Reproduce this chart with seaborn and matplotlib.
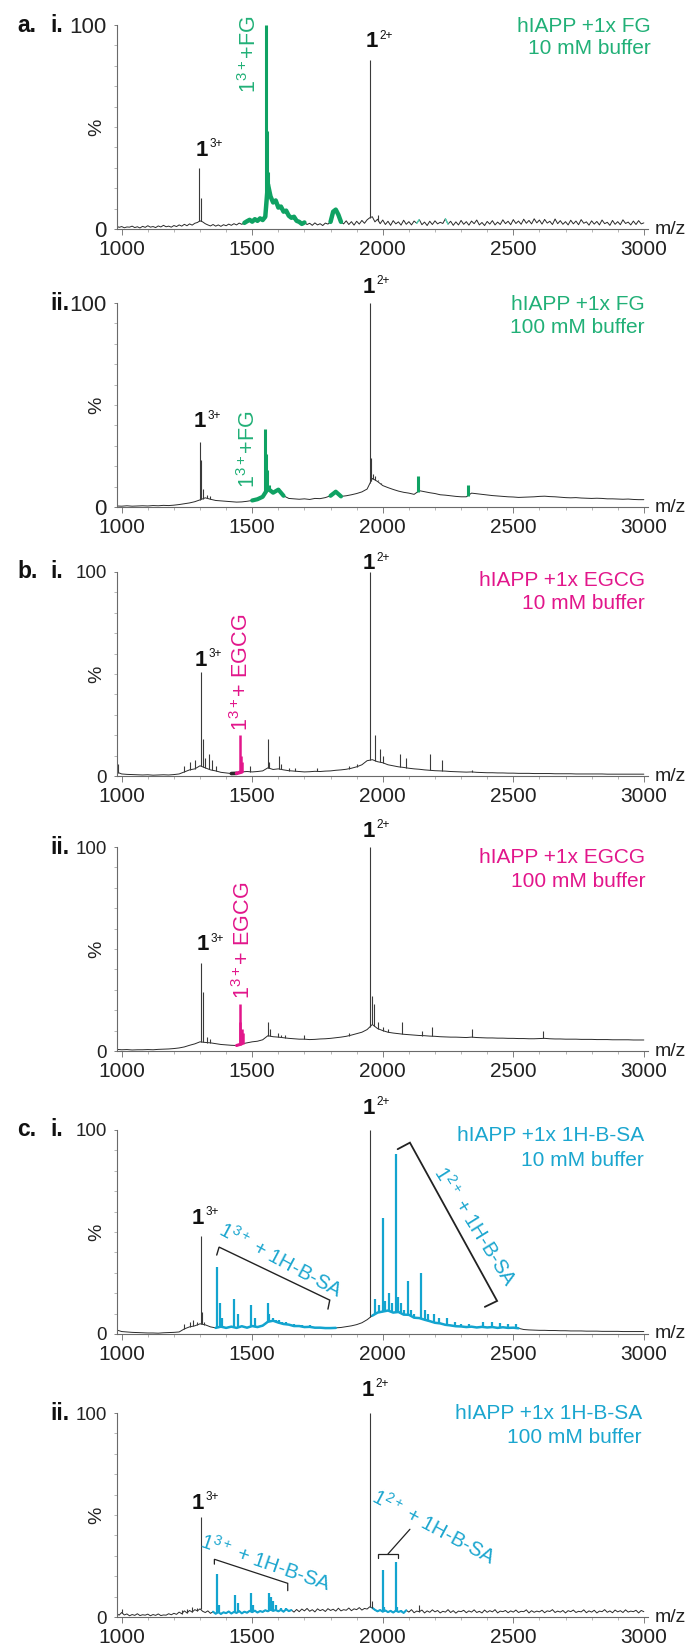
import numpy as np
import matplotlib
matplotlib.use("Agg")
import matplotlib.pyplot as plt
from matplotlib.ticker import MultipleLocator, FixedLocator
import seaborn as sns

sns.set_theme(style="ticks")
plt.rcParams["font.family"] = ["Liberation Sans", "DejaVu Sans"]
plt.rcParams["mathtext.fontset"] = "custom"
plt.rcParams["mathtext.rm"] = "Liberation Sans"
plt.rcParams["mathtext.it"] = "Liberation Sans:italic"
plt.rcParams["mathtext.bf"] = "Liberation Sans:bold"
plt.rcParams["mathtext.default"] = "regular"

# ---------------------------------------------------------------- data
# Each trace: baseline intensity (%) sampled from START with STEP (m/z),
# plus stick peaks for the free protein ions and for ligand-bound ions.

# a.i  hIAPP + 1x FG, 10 mM buffer
ai_start, ai_step = 980, 10
ai_base = [1.5, 0.8,
           1.2, 0.6, 1.0, 0.9, 1.4, 0.7, 1.1, 0.5, 1.3, 0.8,
           1.6, 0.9, 1.2, 0.7, 1.5, 1.0, 1.8, 1.1, 1.4, 0.9,
           1.7, 1.2, 2.0, 1.4, 2.3, 1.6, 2.5, 1.9, 2.8, 3.2,
           4.0, 3.5, 2.6, 2.0, 1.5, 2.2, 1.4, 2.0, 1.3, 2.1,
           1.6, 2.4, 1.8, 2.6, 2.0, 2.9, 2.3, 3.0, 3.8, 4.5,
           3.6, 4.8, 4.0, 5.2, 4.4, 6.0, 22.0, 16.0, 13.0, 14.0,
           10.5, 11.0, 8.5, 9.0, 6.5, 5.5, 6.0, 4.0, 3.5, 2.5,
           3.2, 2.2, 2.8, 1.8, 3.0, 2.0, 2.6, 1.7, 2.9, 2.4,
           3.5, 8.5, 9.5, 7.0, 3.5, 2.5, 4.0, 2.2, 3.6, 1.9,
           3.8, 2.4, 4.2, 2.8, 4.5, 5.5, 6.0, 3.5, 4.8, 2.6,
           4.4, 2.2, 3.8, 1.8, 4.1, 2.5, 3.5, 1.9, 4.3, 2.3,
           3.6, 2.0, 3.9, 2.8, 4.6, 2.1, 3.4, 1.7, 3.8, 2.2,
           4.0, 2.5, 3.3, 2.7, 5.0, 2.4, 3.8, 1.8, 3.5, 2.0,
           4.2, 2.3, 3.6, 1.9, 3.9, 2.6, 4.4, 2.0, 3.2, 1.7,
           3.7, 2.4, 4.1, 2.0, 3.4, 2.2, 4.5, 2.6, 3.8, 2.1,
           4.6, 2.7, 3.9, 2.3, 4.8, 2.8, 4.2, 2.5, 5.0, 3.0,
           4.4, 2.4, 4.7, 2.9, 3.8, 2.2, 4.9, 2.6, 4.1, 2.3,
           3.6, 2.0, 4.3, 2.5, 3.9, 2.1, 4.6, 2.8, 3.5, 1.9,
           4.0, 2.4, 3.7, 2.0, 4.4, 2.6, 3.3, 1.8, 4.2, 2.3,
           3.6, 2.1, 4.5, 2.7, 3.4, 2.0, 3.9, 2.2, 4.1, 2.5,
           3.0]
ai_ion_mz = [1297, 1304, 1952, 1983]
ai_ion_pct = [30, 15, 83, 7]
ai_bound_mz = [1553, 1557, 1562]
ai_bound_pct = [100, 48, 28]
ai_ranges = [(1470, 1700, "main"), (1800, 1845, "main"),
             (2125, 2145, "light"), (2235, 2255, "light")]

# a.ii  hIAPP + 1x FG, 100 mM buffer
aii_start, aii_step = 980, 20
aii_base = [0.5,
            0.4, 0.6, 0.4, 0.5, 0.6,
            0.5, 0.7, 0.6, 0.8, 0.7,
            0.9, 1.2, 1.6, 2.0, 2.6,
            3.5, 4.5, 3.8, 3.2, 3.0,
            2.8, 2.6, 2.4, 2.5, 2.8,
            3.2, 3.8, 5.0, 9.0, 7.0,
            8.5, 5.5, 4.2, 4.0, 3.8,
            4.0, 3.7, 4.2, 4.1, 4.6,
            5.5, 7.5, 5.2, 5.5, 6.0,
            6.6, 7.4, 8.8, 14.0, 12.5,
            10.5, 9.5, 8.6, 7.8, 7.2,
            6.8, 6.2, 8.0, 7.5, 7.0,
            6.6, 6.0, 5.8, 5.5, 5.2,
            5.0, 5.0, 6.8, 6.5, 6.2,
            5.9, 5.6, 5.4, 5.2, 5.0,
            4.9, 4.7, 4.8, 4.9, 5.0,
            5.2, 5.3, 5.1, 5.0, 4.8,
            4.6, 4.5, 4.6, 4.4, 4.3,
            4.2, 4.3, 4.2, 4.0, 4.0,
            3.9, 3.8, 3.9, 3.7, 3.6,
            3.6]
aii_ion_mz = [1300, 1304, 1312, 1328, 1340, 1952, 1956, 1962, 1970, 1980, 1992]
aii_ion_pct = [32, 23, 9, 6, 5.5, 100, 24, 16, 15, 13, 12]
aii_bound_mz = [1549, 1553, 1558, 1566, 1597, 1605, 1818, 2134, 2326]
aii_bound_pct = [38, 26, 18, 11, 9.5, 8, 8, 15, 11]
aii_ranges = [(1490, 1630, "main"), (1800, 1840, "main"), (2130, 2150, "light")]

# b.i  hIAPP + 1x EGCG, 10 mM buffer
bi_start, bi_step = 980, 20
bi_base = [2.0,
           1.0, 0.8, 0.7, 0.6, 0.5,
           0.6, 0.4, 0.5, 0.6, 0.5,
           0.7, 1.0, 2.0, 3.0, 3.5,
           5.0, 4.0, 3.0, 2.5, 1.8,
           1.5, 1.2, 1.3, 2.0, 2.2,
           2.0, 2.2, 2.5, 4.0, 3.2,
           3.5, 3.0, 2.6, 2.4, 2.2,
           2.0, 2.1, 2.3, 2.2, 2.4,
           2.5, 2.8, 3.0, 3.3, 3.8,
           4.5, 5.5, 7.5, 8.0, 7.0,
           6.5, 5.5, 5.0, 4.5, 4.2,
           3.8, 3.5, 3.3, 3.0, 2.8,
           2.6, 2.5, 2.4, 2.2, 2.1,
           2.0, 1.9, 2.0, 1.8, 1.7,
           1.6, 1.6, 1.5, 1.5, 1.4,
           1.4, 1.3, 1.3, 1.3, 1.2,
           1.2, 1.2, 1.2, 1.1, 1.1,
           1.1, 1.1, 1.0, 1.0, 1.0,
           1.0, 1.0, 1.0, 0.9, 0.9,
           0.9, 0.9, 0.9, 0.9, 0.9,
           0.9]
bi_ion_mz = [986, 1240, 1262, 1280, 1302, 1310, 1318, 1335, 1345, 1360, 1490,
             1560, 1566, 1602, 1610, 1640, 1662, 1750, 1870, 1900, 1952, 1970,
             1990, 2000, 2065, 2090, 2180, 2225, 2340]
bi_ion_pct = [6, 5, 7, 8, 51, 18, 9, 11, 8, 5, 5, 18, 7, 10, 6, 4, 4, 4, 5, 6,
              100, 20, 13, 10, 11, 9, 11, 8, 3]
bi_bound_mz = [1452, 1456, 1462]
bi_bound_pct = [20, 10, 7]
bi_ranges = [(1420, 1440, "dark"), (1440, 1470, "main")]

# b.ii  hIAPP + 1x EGCG, 100 mM buffer
bii_start, bii_step = 980, 20
bii_base = [0.8,
            0.6, 0.7, 0.5, 0.6, 0.6,
            0.7, 0.6, 0.8, 0.9, 1.0,
            1.2, 1.5, 2.0, 2.8, 3.5,
            4.5, 4.2, 4.0, 3.6, 3.2,
            3.0, 2.8, 2.7, 3.5, 4.0,
            4.5, 4.8, 5.5, 7.5, 7.0,
            6.8, 6.5, 6.2, 6.0, 5.8,
            5.8, 5.6, 5.7, 5.9, 6.0,
            6.2, 6.5, 6.8, 7.2, 7.8,
            8.5, 9.2, 10.5, 13.0, 11.0,
            10.0, 9.2, 8.8, 8.5, 8.2,
            8.0, 7.8, 7.6, 7.5, 7.3,
            7.2, 7.0, 6.9, 6.8, 6.8,
            6.7, 6.6, 6.8, 6.6, 6.5,
            6.4, 6.4, 6.3, 6.3, 6.2,
            6.2, 6.1, 6.1, 6.0, 6.0,
            6.1, 6.2, 6.0, 5.9, 5.9,
            5.8, 5.8, 5.8, 5.7, 5.7,
            5.7, 5.6, 5.6, 5.6, 5.5,
            5.5, 5.5, 5.5, 5.4, 5.4,
            5.4]
bii_ion_mz = [1302, 1312, 1325, 1340, 1562, 1568, 1600, 1612, 1625, 1700, 1870,
              1952, 1960, 1968, 1980, 2000, 2020, 2073, 2150, 2189, 2343, 2614]
bii_ion_pct = [43, 29, 7, 6, 14, 11, 9, 8, 8, 8, 9,
               100, 27, 23, 14, 12, 11, 14, 10, 12, 11, 10]
bii_bound_mz = [1452, 1455, 1460, 1465]
bii_bound_pct = [23, 14, 11, 9]
bii_ranges = [(1440, 1470, "main")]

# c.i  hIAPP + 1x 1H-B-SA, 10 mM buffer
ci_start, ci_step = 980, 20
ci_base = [2.0,
           1.2, 1.0, 0.8, 0.7, 0.6,
           0.5, 0.5, 0.4, 0.6, 0.7,
           0.8, 1.0, 2.5, 3.5, 4.0,
           5.0, 4.5, 3.5, 3.0, 3.6,
           3.0, 3.6, 3.0, 3.8, 3.1,
           3.9, 3.4, 4.1, 6.0, 6.5,
           5.6, 4.9, 4.6, 3.9, 3.9,
           3.4, 3.5, 3.1, 3.1, 2.9,
           2.9, 3.0, 3.2, 3.6, 4.0,
           4.6, 5.5, 7.0, 9.0, 10.5,
           11.0, 11.5, 10.5, 10.8, 9.5,
           9.4, 8.0, 7.8, 7.0, 6.3,
           5.5, 5.2, 4.5, 4.2, 3.8,
           3.7, 3.4, 3.6, 3.2, 3.5,
           3.2, 3.4, 3.0, 3.3, 3.0,
           3.1, 2.8, 2.2, 2.0, 1.9,
           1.8, 1.8, 1.7, 1.7, 1.6,
           1.6, 1.5, 1.5, 1.5, 1.4,
           1.4, 1.4, 1.3, 1.3, 1.3,
           1.3, 1.2, 1.2, 1.2, 1.2,
           1.2]
ci_ion_mz = [1240, 1260, 1275, 1290, 1302, 1308, 1315, 1952]
ci_ion_pct = [5, 6, 7, 6, 48, 11, 6, 100]
ci_bound_mz = [1366, 1377, 1383, 1431, 1444, 1496, 1511, 1560, 1566, 1578, 1590,
               1603, 1615, 1629, 1660, 1690, 1720, 1972, 1985, 1999, 2010, 2022,
               2035, 2049, 2060, 2069, 2080, 2096, 2108, 2120, 2148, 2160, 2175,
               2198, 2215, 2247, 2275, 2300, 2330, 2384, 2420, 2450, 2480, 2510]
ci_bound_pct = [33, 15, 8, 17, 10, 14, 8, 15, 10, 8, 7,
                7, 6, 6, 5, 4.5, 4.2, 17, 14, 57, 16, 20,
                15, 88, 18, 15, 12, 26, 12, 10, 30, 12, 10,
                10, 8, 8, 6, 5, 5, 6, 6, 5.5, 5, 5]
ci_ranges = [(1345, 1830, "main"), (1960, 2530, "main")]

# c.ii  hIAPP + 1x 1H-B-SA, 100 mM buffer
cii_start, cii_step = 980, 10
cii_base = [1.8, 0.9,
            2.2, 1.0, 1.5, 0.6, 1.2, 0.8, 1.6, 0.7, 1.1, 0.9,
            1.4, 0.6, 1.2, 0.8, 1.5, 0.7, 1.0, 0.9, 1.6, 1.1,
            1.8, 1.3, 2.4, 1.6, 3.0, 2.0, 3.2, 2.4, 3.6, 3.0,
            4.0, 2.8, 2.2, 3.0, 1.8, 2.6, 1.6, 2.4, 1.5, 2.3,
            1.9, 2.7, 1.7, 2.5, 2.0, 2.9, 1.8, 2.6, 2.1, 3.0,
            2.4, 3.1, 2.2, 2.9, 2.5, 3.3, 2.8, 3.6, 3.0, 3.4,
            2.8, 3.5, 2.6, 3.8, 2.9, 3.4, 2.4, 3.7, 2.6, 3.9,
            3.0, 4.2, 2.8, 3.6, 2.5, 4.0, 3.1, 3.7, 2.7, 4.1,
            3.2, 3.8, 2.9, 4.3, 3.0, 3.6, 3.3, 4.4, 3.1, 4.0,
            3.6, 4.6, 3.4, 4.2, 3.9, 5.0, 4.5, 3.5, 2.8, 3.4,
            2.6, 3.2, 2.4, 3.0, 2.2, 3.1, 2.5, 2.9, 2.0, 3.3,
            2.4, 3.6, 2.1, 2.9, 2.6, 3.4, 2.0, 3.0, 2.3, 3.5,
            2.5, 3.2, 2.0, 2.8, 2.4, 3.6, 2.2, 3.1, 1.9, 2.9,
            2.6, 3.3, 2.1, 3.0, 2.4, 3.5, 2.2, 2.8, 2.0, 3.4,
            2.3, 3.1, 2.5, 3.6, 2.0, 2.9, 2.6, 3.2, 2.1, 3.0,
            2.4, 3.4, 2.2, 2.8, 2.6, 3.5, 2.0, 3.1, 2.3, 2.9,
            2.5, 3.3, 2.1, 3.0, 2.7, 3.6, 2.2, 2.9, 2.4, 3.2,
            2.0, 3.1, 2.6, 3.4, 2.2, 2.8, 2.5, 3.5, 2.1, 3.0,
            2.4, 3.3, 2.0, 2.9, 2.6, 3.6, 2.3, 3.0, 2.1, 3.4,
            2.5, 3.1, 2.2, 3.5, 2.4, 2.9, 2.6, 3.3, 2.0, 3.2,
            2.6]
cii_ion_mz = [1002, 1230, 1250, 1270, 1290, 1302, 1952, 1958, 2140]
cii_ion_pct = [4, 3.5, 4, 5, 4.5, 49, 100, 8, 6]
cii_bound_mz = [1366, 1372, 1433, 1444, 1496, 1502, 1563, 1573, 1580, 1590, 1610,
                1630, 1999, 2005, 2049, 2056, 2070]
cii_bound_pct = [21, 6, 11, 7, 12, 6, 12, 10, 8, 6, 4.5, 4.5, 23, 5, 27, 5, 3.5]
cii_ranges = [(1345, 1650, "main"), (1960, 2090, "main")]

x_tick_labels = [1000, 1500, 2000, 2500, 3000]
y_tick_labels = [0, 100]

# ---------------------------------------------------------------- style
TRACE = "#2a2a2a"
GREEN, GREEN_TXT, AQUA = "#0fa263", "#21b077", "#52d8b6"
MAGENTA = "#e2168b"
CYAN, CYAN_TXT = "#13a4cf", "#1ba6cf"
AXIS = "#6a6a6a"

FIG_W, FIG_H = 688, 1644
AX_L, AX_R, AX_H = 117, 648, 204

panels = [
    dict(tag=("a.", "i."), top=25, start=ai_start, step=ai_step, base=ai_base,
         ion=(ai_ion_mz, ai_ion_pct), bound=(ai_bound_mz, ai_bound_pct),
         ranges=ai_ranges, color=GREEN, light=AQUA, txt=GREEN_TXT, bound_lw=2.2,
         range_lw=3.2, ylab_fs=16,
         cond=("hIAPP +1x FG", "10 mM buffer", 3025, 99.5, 88.5),
         ions=[(1283, 36, "3+"), (1933, 89, "2+")],
         vlabel=(r"$1^{3+}$+FG", 1490, 85.5)),
    dict(tag=(None, "ii."), top=303, start=aii_start, step=aii_step, base=aii_base,
         ion=(aii_ion_mz, aii_ion_pct), bound=(aii_bound_mz, aii_bound_pct),
         ranges=aii_ranges, color=GREEN, light=AQUA, txt=GREEN_TXT, bound_lw=2.2,
         range_lw=3.0, ylab_fs=16,
         cond=("hIAPP +1x FG", "100 mM buffer", 3003, 99.5, 88),
         ions=[(1275, 39, "3+"), (1922, 105, "2+")],
         vlabel=(r"$1^{3+}$+FG", 1484, 28.5)),
    dict(tag=("b.", "i."), top=572, start=bi_start, step=bi_step, base=bi_base,
         ion=(bi_ion_mz, bi_ion_pct), bound=(bi_bound_mz, bi_bound_pct),
         ranges=bi_ranges, color=MAGENTA, light=MAGENTA, txt=MAGENTA, bound_lw=1.8,
         range_lw=2.6, ylab_fs=13.5,
         cond=("hIAPP +1x EGCG", "10 mM buffer", 3005, 96, 84.5),
         ions=[(1279, 54, "3+"), (1922, 101.5, "2+")],
         vlabel=(r"$1^{3+}$+ EGCG", 1460, 51)),
    dict(tag=(None, "ii."), top=847, start=bii_start, step=bii_step, base=bii_base,
         ion=(bii_ion_mz, bii_ion_pct), bound=(bii_bound_mz, bii_bound_pct),
         ranges=bii_ranges, color=MAGENTA, light=MAGENTA, txt=MAGENTA, bound_lw=1.8,
         range_lw=2.2, ylab_fs=13.5,
         cond=("hIAPP +1x EGCG", "100 mM buffer", 3005, 95, 83),
         ions=[(1286, 49.5, "3+"), (1922, 105, "2+")],
         vlabel=(r"$1^{3+}$+ EGCG", 1467, 54)),
    dict(tag=("c.", "i."), top=1130, start=ci_start, step=ci_step, base=ci_base,
         ion=(ci_ion_mz, ci_ion_pct), bound=(ci_bound_mz, ci_bound_pct),
         ranges=ci_ranges, color=CYAN, light=CYAN, txt=CYAN_TXT, bound_lw=1.6,
         range_lw=1.8, ylab_fs=13.5,
         cond=("hIAPP +1x 1H-B-SA", "10 mM buffer", 3000, 97.5, 85),
         ions=[(1269, 54, "3+"), (1922, 108, "2+")],
         vlabel=None),
    dict(tag=(None, "ii."), top=1413, start=cii_start, step=cii_step, base=cii_base,
         ion=(cii_ion_mz, cii_ion_pct), bound=(cii_bound_mz, cii_bound_pct),
         ranges=cii_ranges, color=CYAN, light=CYAN, txt=CYAN_TXT, bound_lw=1.6,
         range_lw=1.5, ylab_fs=13.5,
         cond=("hIAPP +1x 1H-B-SA", "100 mM buffer", 2992, 100, 88),
         ions=[(1269, 53, "3+"), (1918, 108.5, "2+")],
         vlabel=None),
]

fig = plt.figure(figsize=(FIG_W / 100, FIG_H / 100), dpi=100)
axes = []

for p in panels:
    top = p["top"]
    ax = fig.add_axes([AX_L / FIG_W, 1 - (top + AX_H) / FIG_H,
                       (AX_R - AX_L) / FIG_W, AX_H / FIG_H])
    axes.append(ax)

    mz = p["start"] + p["step"] * np.arange(len(p["base"]))
    base = np.asarray(p["base"], dtype=float)

    sns.lineplot(x=mz, y=base, ax=ax, color=TRACE, lw=0.7, estimator=None)
    for lo, hi, kind in p["ranges"]:
        sel = (mz >= lo) & (mz <= hi)
        col = {"main": p["color"], "light": p["light"], "dark": TRACE}[kind]
        lw = p["range_lw"] if kind != "light" else 1.0
        if kind == "dark":
            lw = 2.6
        sns.lineplot(x=mz[sel], y=base[sel], ax=ax, color=col, lw=lw,
                     estimator=None)

    ion_mz, ion_pct = map(np.asarray, p["ion"])
    ax.vlines(ion_mz, np.interp(ion_mz, mz, base), ion_pct, color="#3a3a3a",
              lw=0.8)
    b_mz, b_pct = map(np.asarray, p["bound"])
    ax.vlines(b_mz, np.interp(b_mz, mz, base), b_pct, color=p["color"],
              lw=p["bound_lw"])

    # axes cosmetics
    ax.set_xlim(982, 3016)
    ax.set_ylim(0, 100)
    ax.set_xlabel("")
    ax.set_ylabel("")
    sns.despine(ax=ax)
    for s in ("left", "bottom"):
        ax.spines[s].set_color(AXIS)
        ax.spines[s].set_linewidth(0.8)
    ax.xaxis.set_major_locator(FixedLocator(x_tick_labels))
    ax.xaxis.set_minor_locator(MultipleLocator(100))
    ax.yaxis.set_major_locator(FixedLocator(y_tick_labels))
    ax.yaxis.set_minor_locator(MultipleLocator(10))
    ax.tick_params(axis="x", which="major", direction="out", length=4.5,
                   width=0.6, color=AXIS, pad=3.5, labelsize=15, labelcolor="#222")
    ax.tick_params(axis="x", which="minor", direction="out", length=2.5,
                   width=0.5, color="#999")
    ax.tick_params(axis="y", which="major", direction="out", length=2.5,
                   width=0.6, color=AXIS, pad=5, labelsize=p["ylab_fs"],
                   labelcolor="#222")
    ax.tick_params(axis="y", which="minor", direction="out", length=2.5,
                   width=0.5, color="#999")
    ax.text(1.013, 0.0, "m/z", transform=ax.transAxes, ha="left", va="center",
            fontsize=14, color="#222")

    # panel tags and "%" label
    yc = 1 - top / FIG_H
    if p["tag"][0]:
        fig.text(17 / FIG_W, yc, p["tag"][0], fontsize=16.5, fontweight="bold",
                 ha="left", va="center", color="#111")
    fig.text(50 / FIG_W, yc, p["tag"][1], fontsize=16.5, fontweight="bold",
             ha="left", va="center", color="#111")
    fig.text(97 / FIG_W, 1 - (top + AX_H / 2) / FIG_H, "%", fontsize=14,
             rotation=90, ha="center", va="center", color="#222")

    # condition text
    l1, l2, cx, cy1, cy2 = p["cond"]
    ax.text(cx, cy1, l1, ha="right", va="center", fontsize=15, color=p["txt"])
    ax.text(cx, cy2, l2, ha="right", va="center", fontsize=15, color=p["txt"])

    # ion labels 1^(z+)
    for lx, ly, z in p["ions"]:
        t = ax.text(lx, ly, "1", fontsize=16, fontweight="bold", ha="left",
                    va="baseline", color="#111")
        ax.annotate(z, xy=(1, 1), xycoords=t, xytext=(1.2, 1),
                    textcoords="offset points", ha="left", va="top",
                    fontsize=8.5, color="#111")

    if p["vlabel"]:
        s, vx, vy = p["vlabel"]
        ax.text(vx, vy, s, rotation=90, ha="center", va="center", fontsize=15.5,
                color=p["txt"])

# bracket annotations for the 1H-B-SA adduct series
ax = axes[4]
ax.plot([1364, 1373, 1797, 1790], [38.7, 42.6, 16.6, 12.2], color="#222",
        lw=1.0, solid_joinstyle="miter")
ax.plot([2057, 2104, 2438, 2391], [90.6, 93.8, 16.2, 13.3], color="#222",
        lw=1.3, solid_joinstyle="miter")
ax.text(1610, 36, r"$1^{3+}$ + 1H-B-SA", rotation=-28, ha="center", va="center",
        rotation_mode="anchor", fontsize=14.5, color=CYAN_TXT)
ax.text(2355, 53, r"$1^{2+}$ + 1H-B-SA", rotation=-58, ha="center", va="center",
        rotation_mode="anchor", fontsize=14.5, color=CYAN_TXT)

ax = axes[5]
ax.plot([1355, 1355, 1636, 1636], [25.9, 28.3, 16.5, 12.9], color="#222",
        lw=0.9, solid_joinstyle="miter")
ax.plot([1980, 1980, 2060, 2060], [28.8, 30.9, 30.9, 28.8], color="#222",
        lw=0.9, solid_joinstyle="miter")
ax.plot([2020, 2104], [30.9, 43.0], color="#222", lw=0.9)
ax.text(1551, 26.5, r"$1^{3+}$ + 1H-B-SA", rotation=-19, ha="center",
        va="center", rotation_mode="anchor", fontsize=14.5, color=CYAN_TXT)
ax.text(2196, 44.3, r"$1^{2+}$ + 1H-B-SA", rotation=-28, ha="center",
        va="center", rotation_mode="anchor", fontsize=14.5, color=CYAN_TXT)

fig.savefig("out.png", dpi=100, facecolor="white")
